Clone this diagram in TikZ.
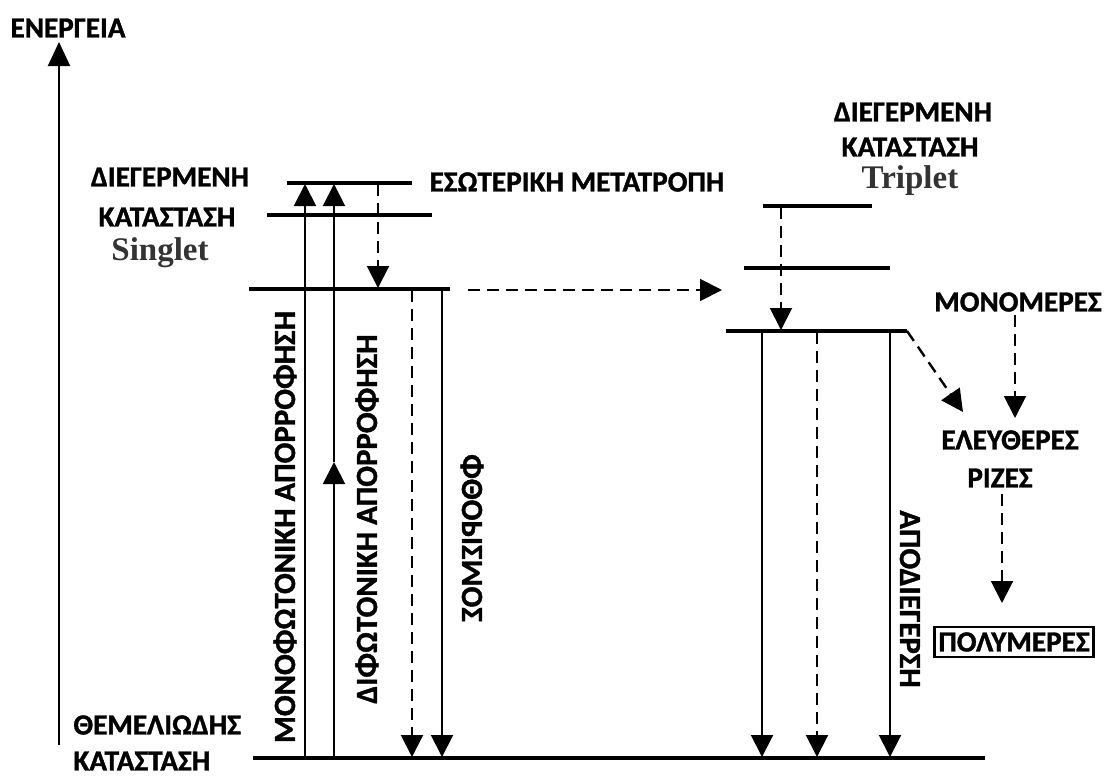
\documentclass[tikz,border=0pt]{standalone}
\usepackage{fontspec}
\usepackage{graphicx}
\setmainfont{Carlito}
\IfFontExistsTF{Carlito Bold}
  {\newfontfamily\lblfont{Carlito Bold}[FakeBold=1.2]}
  {\newfontfamily\lblfont{Carlito}[FakeBold=2.5]}
\newfontfamily\serifbold{Liberation Serif}[BoldFont={Liberation Serif Bold}]
\usetikzlibrary{arrows.meta}
\begin{document}
\begin{tikzpicture}[x=0.5pt,y=-0.5pt,
  lbl/.style={font=\lblfont\fontsize{14.6}{17}\selectfont, inner sep=0pt},
  rot/.style={font=\lblfont\fontsize{15.4}{18}\selectfont, inner sep=0pt},
  eng/.style={font=\serifbold\bfseries\fontsize{16.5}{18}\selectfont, text=black!80, inner sep=0pt, anchor=base},
  lvl/.style={line width=1.8pt},
  tr/.style={line width=1pt},
  tip/.style={-{Triangle[length=11pt,width=11pt]}},
  dsh/.style={dash pattern=on 6pt off 3.5pt}]
\useasboundingbox (0,0) rectangle (1104,776);

% energy axis
\node[lbl] (energy) at (68,28) {ΕΝΕΡΓΕΙΑ};
\coordinate (ax0) at (59,745);
\coordinate (ax1) at (59,42);
\draw[tr,-{Triangle[length=12pt,width=11pt]}] (ax0) -- (ax1);

% level coordinates
\coordinate (S2l) at (287,183); \coordinate (S2r) at (412,183);
\coordinate (S1l) at (267,215); \coordinate (S1r) at (432,215);
\coordinate (S0l) at (249,289); \coordinate (S0r) at (450,289);
\coordinate (T2l) at (763,206); \coordinate (T2r) at (872,206);
\coordinate (T1l) at (744,268); \coordinate (T1r) at (890,268);
\coordinate (T0l) at (726,331); \coordinate (T0r) at (907,331);
\coordinate (Gl) at (253,758);  \coordinate (Gr) at (985,758);
\foreach \a/\b in {S2l/S2r,S1l/S1r,S0l/S0r,T2l/T2r,T1l/T1r,T0l/T0r,Gl/Gr}
  \draw[lvl] (\a) -- (\b);

% absorption arrows
\coordinate (m0) at (305,758); \coordinate (m1) at (305,184);
\coordinate (d0) at (334,758); \coordinate (dm) at (334,462); \coordinate (d1) at (334,184);
\draw[tr,tip] (m0) -- (m1);
\draw[tr,tip] (d0) -- (dm);
\draw[tr,tip] (dm) -- (d1);

% internal conversion
\coordinate (ic0) at (378,184); \coordinate (ic1) at (378,288);
\draw[tr,dsh,tip] (ic0) -- (ic1);

% fluorescence
\coordinate (f10) at (412,290); \coordinate (f11) at (412,757);
\coordinate (f20) at (442,290); \coordinate (f21) at (442,757);
\draw[tr,dsh,tip] (f10) -- (f11);
\draw[tr,tip] (f20) -- (f21);

% intersystem crossing
\coordinate (isc0) at (468,290); \coordinate (isc1) at (722,290);
\draw[tr,dsh,tip] (isc0) -- (isc1);

% triplet internal
\coordinate (ti0) at (781,207); \coordinate (ti1) at (781,330);
\draw[tr,dsh,tip] (ti0) -- (ti1);

% triplet decays
\coordinate (p10) at (762,332); \coordinate (p11) at (762,757);
\coordinate (p20) at (817,332); \coordinate (p21) at (817,757);
\coordinate (p30) at (890,332); \coordinate (p31) at (890,757);
\draw[tr,tip] (p10) -- (p11);
\draw[tr,dsh,tip] (p20) -- (p21);
\draw[tr,tip] (p30) -- (p31);

% labels
\node[lbl] (s1a) at (170,177) {ΔΙΕΓΕΡΜΕΝΗ};
\node[lbl] (s1b) at (167,217) {ΚΑΤΑΣΤΑΣΗ};
\node[eng] (sing) at (160,260) {Singlet};
\node[lbl] (icl) at (577,182) {ΕΣΩΤΕΡΙΚΗ ΜΕΤΑΤΡΟΠΗ};
\node[lbl] (t1a) at (913,112) {ΔΙΕΓΕΡΜΕΝΗ};
\node[lbl] (t1b) at (910,147) {ΚΑΤΑΣΤΑΣΗ};
\node[eng] (trip) at (910,188) {Triplet};
\node[lbl] (mono) at (1018,302) {ΜΟΝΟΜΕΡΕΣ};
\node[lbl] (free) at (1010,440) {ΕΛΕΥΘΕΡΕΣ};
\node[lbl] (rad) at (1000,478) {ΡΙΖΕΣ};
\node[lbl,draw,line width=1.3pt,minimum width=79pt,minimum height=15pt,inner sep=2pt] (poly) at (1014,642) {ΠΟΛΥΜΕΡΕΣ};
\node[lbl,anchor=west] (gs1) at (73,725) {ΘΕΜΕΛΙΩΔΗΣ};
\node[lbl,anchor=west] (gs2) at (73,761) {ΚΑΤΑΣΤΑΣΗ};
\node[rot,rotate=90] (monoabs) at (285,527) {ΜΟΝΟΦΩΤΟΝΙΚΗ ΑΠΟΡΡΟΦΗΣΗ};
\node[rot,rotate=90] (diabs) at (367,519) {ΔΙΦΩΤΟΝΙΚΗ ΑΠΟΡΡΟΦΗΣΗ};
\node[rot,rotate=90] (fluo) at (472,538) {\reflectbox{ΦΘΟΡΙΣΜΟΣ}};
\node[rot,rotate=-90] (deex) at (910,599) {ΑΠΟΔΙΕΓΕΡΣΗ};

% radical pathway
\coordinate (rd0) at (963,412);
\draw[line width=1.2pt,dsh,tip] (T0r) -- (rd0);
\coordinate (mn0) at (1015,315); \coordinate (mn1) at (1015,418);
\draw[tr,dsh,tip] (mn0) -- (mn1);
\coordinate (pl0) at (1002,494); \coordinate (pl1) at (1002,603);
\draw[tr,dsh,tip] (pl0) -- (pl1);
\end{tikzpicture}
\end{document}
